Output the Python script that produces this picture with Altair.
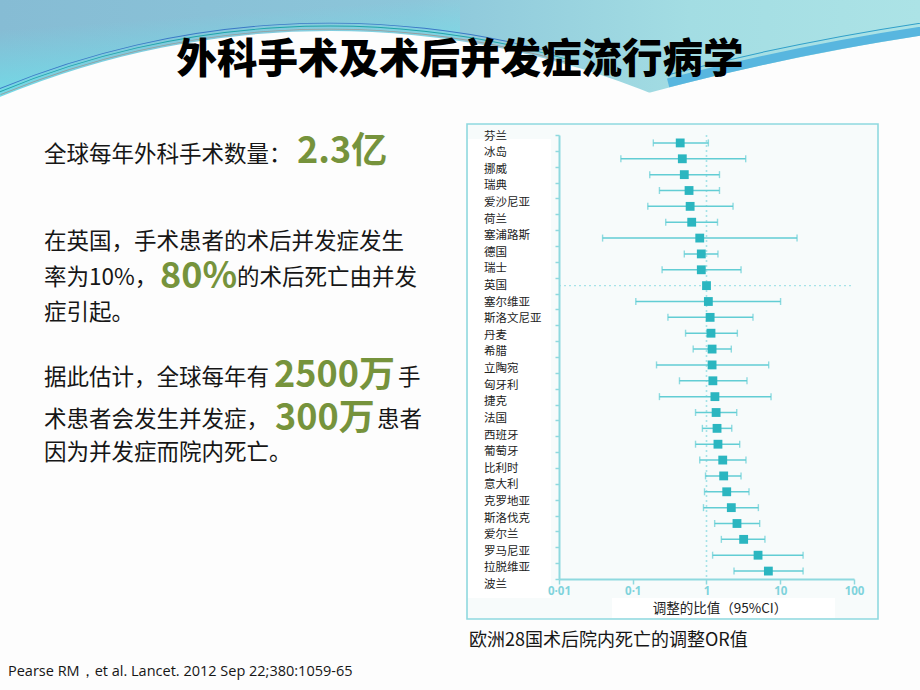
import altair as alt
import pandas as pd

# ---------------- data ----------------
COUNTRIES = ["芬兰", "冰岛", "挪威", "瑞典", "爱沙尼亚", "荷兰", "塞浦路斯", "德国", "瑞士", "英国",
             "塞尔维亚", "斯洛文尼亚", "丹麦", "希腊", "立陶宛", "匈牙利", "捷克", "法国", "西班牙",
             "葡萄牙", "比利时", "意大利", "克罗地亚", "斯洛伐克", "爱尔兰", "罗马尼亚", "拉脱维亚", "波兰"]
OR_VALUES = [0.44, 0.47, 0.50, 0.58, 0.60, 0.63, 0.81, 0.85, 0.85, 1.0,
             1.06, 1.12, 1.15, 1.19, 1.19, 1.22, 1.30, 1.35, 1.39,
             1.43, 1.66, 1.71, 1.88, 2.17, 2.59, 3.19, 5.0, 6.9]
CI_LOW = [0.19, 0.069, 0.17, 0.23, 0.16, 0.28, 0.039, 0.50, 0.25, None,
          0.11, 0.30, 0.52, 0.66, 0.21, 0.43, 0.23, 0.71, 0.88,
          0.71, 0.81, 0.97, 0.94, 0.91, 1.29, 1.59, 1.21, 2.36]
CI_HIGH = [1.06, 3.4, 1.5, 1.5, 2.29, 1.41, 16.9, 1.43, 2.94, None,
           10.1, 4.27, 2.62, 2.17, 6.97, 3.54, 7.5, 2.57, 2.2,
           2.82, 3.43, 2.94, 3.77, 5.05, 5.26, 6.2, 20.4, 20.4]
REFERENCE_COUNTRY = "英国"
REFERENCE_OR = [1.0]
X_TICK_VALUES = [0.01, 0.1, 1, 10, 100]
X_TICK_LABELS = ["0·01", "0·1", "1", "10", "100"]

df = pd.DataFrame({"country": COUNTRIES, "oddsratio": OR_VALUES, "lo": CI_LOW, "hi": CI_HIGH})
df["idx"] = list(range(len(df)))
ci_df = df.dropna(subset=["lo", "hi"])
ref_df = pd.DataFrame({"v": REFERENCE_OR})
one = pd.DataFrame({"k": [0]})

# ---------------- layout ----------------
PL, PT, W, H = 559, 135, 295, 444
def px(x):
    return x - PL
def py(y):
    return y - PT

CJK = "Noto Sans CJK SC"
AX = "#8fd9df"
BAR = "#62cdd4"
SQ = "#2bb6c0"
GREEN = "#76933c"
INK = "#161616"

# label expression built from the tick lists
expr = "'" + X_TICK_LABELS[-1] + "'"
for v, l in reversed(list(zip(X_TICK_VALUES[:-1], X_TICK_LABELS[:-1]))):
    expr = f"datum.value <= {v * 1.01} ? '{l}' : ({expr})"

x_axis = alt.Axis(values=X_TICK_VALUES, labelExpr=expr, title=None, grid=False, zindex=1,
                  domainColor=AX, domainWidth=2, tickColor=AX, tickWidth=1.5, tickSize=5,
                  labelColor="#7fd3dc", labelFont="Noto Sans", labelFontWeight="bold",
                  labelFontSize=11.5, labelPadding=1, labelFlush=False, labelOverlap=False)
x_scale = alt.Scale(type="log", domain=[0.01, 100], nice=False)
y_axis = alt.Axis(values=[k - 0.5 for k in range(len(COUNTRIES) + 1)], labels=False, title=None,
                  grid=False, zindex=1, domainColor=AX, domainWidth=2, tickColor=AX, tickWidth=1.5,
                  tickSize=4)
y_scale = alt.Scale(domain=[-0.5, len(COUNTRIES) - 0.5], reverse=True, nice=False, zero=False)

def xq(f):
    return alt.X(f + ":Q", scale=x_scale, axis=x_axis)
def yq(f):
    return alt.Y(f + ":Q", scale=y_scale, axis=y_axis)

def at(x, y):
    return dict(x=alt.value(px(x)), y=alt.value(py(y)))

# ---------------- decorative banner ----------------
grad_h = {"gradient": "linear", "x1": 0, "y1": 0, "x2": 1, "y2": 0,
          "stops": [{"offset": 0, "color": "#86bcd4"}, {"offset": 0.45, "color": "#8cc6da"},
                    {"offset": 0.75, "color": "#a3dde3"}, {"offset": 1, "color": "#ace3e6"}]}
grad_v = {"gradient": "linear", "x1": 0, "y1": 0, "x2": 0.3, "y2": 1,
          "stops": [{"offset": 0.25, "color": "rgba(108,228,237,0)"},
                    {"offset": 1, "color": "rgba(108,228,237,1)"}]}
banner = alt.Chart(one).mark_rect(fill=grad_h).encode(
    x=alt.value(px(0)), x2=alt.value(px(920)), y=alt.value(py(0)), y2=alt.value(py(125)))
banner2 = alt.Chart(one).mark_rect(fill=grad_v).encode(
    x=alt.value(px(0)), x2=alt.value(px(460)), y=alt.value(py(0)), y2=alt.value(py(110)))
white_l = alt.Chart(one).mark_arc(theta=0, theta2=6.2832, radius=858, fill="#fdfdfd").encode(**at(330, 889))
white_r = alt.Chart(one).mark_arc(theta=0, theta2=6.2832, radius=2518, fill="#fdfdfd").encode(**at(1300, 2525))
swoosh = alt.Chart(one).mark_arc(theta=6.03, theta2=6.16, radius=2527, radius2=2518,
                                  fill="#58b6df").encode(**at(1300, 2525))
swoosh2 = alt.Chart(one).mark_arc(theta=6.03, theta2=6.16, radius=2531, radius2=2530,
                                   fill="#2f9fc9").encode(**at(1300, 2525))
lines_l = [
    alt.Chart(one).mark_arc(theta=5.89, theta2=6.56, radius=r + w, radius2=r, fill=c).encode(**at(330, 889))
    for r, w, c in [(859.5, 0.8, "#9a9a9a"), (862.5, 0.9, "#1fa5a8"), (865.5, 0.8, "#3b78c6")]
]

# ---------------- slide text ----------------
title = alt.Chart(one).mark_text(text="外科手术及术后并发症流行病学", font=CJK, fontSize=40.5, fontWeight=900,
                                 align="center", baseline="middle", color="#000000").encode(**at(460, 61))

def body(t, x, y, size=22.5, color=INK, weight="normal", font=CJK):
    return alt.Chart(one).mark_text(text=t, font=font, fontSize=size, fontWeight=weight, color=color,
                                    align="left", baseline="middle").encode(**at(x, y))

def big(t, x, y):
    return body(t, x, y, size=36, color=GREEN, weight="bold")

texts = [
    body("全球每年外科手术数量：", 44, 155), big("2.3亿", 297, 152),
    body("在英国，手术患者的术后并发症发生", 44, 242),
    body("率为10%，", 44, 278), big("80%", 160, 277), body("的术后死亡由并发", 237, 278),
    body("症引起。", 44, 313),
    body("据此估计，全球每年有", 44, 378), big("2500万", 274, 376), body("手", 398, 378),
    body("术患者会发生并发症，", 44, 420), big("300万", 275, 419), body("患者", 377, 420),
    body("因为并发症而院内死亡。", 44, 453),
    body("欧洲28国术后院内死亡的调整OR值", 469, 641, size=18),
    body("Pearse RM，et al. Lancet. 2012 Sep 22;380:1059-65", 8, 672, size=14.5, font="Open Sans"),
]

# ---------------- forest plot panel ----------------
panel = alt.Chart(one).mark_rect(fill="#f7fbfb", stroke=AX, strokeWidth=1.6).encode(
    x=alt.value(px(467)), x2=alt.value(px(878)), y=alt.value(py(124)), y2=alt.value(py(619)))
label_bg = alt.Chart(one).mark_rect(fill="white").encode(
    x=alt.value(px(468)), x2=alt.value(px(551)), y=alt.value(py(139)), y2=alt.value(py(598)))
title_bg = alt.Chart(one).mark_rect(fill="white").encode(
    x=alt.value(px(612)), x2=alt.value(px(835)), y=alt.value(py(598)), y2=alt.value(py(618)))

vref = alt.Chart(ref_df).mark_rule(color="#a6e3e8", strokeWidth=1.6, strokeDash=[2, 3]).encode(
    x=xq("v"), y=alt.value(0), y2=alt.value(H))
href = alt.Chart(df).transform_filter(alt.datum.country == REFERENCE_COUNTRY).mark_rule(
    color="#a6e3e8", strokeWidth=1.4, strokeDash=[2, 3]).encode(
    y=yq("idx"), x=alt.value(0), x2=alt.value(W))
bars = alt.Chart(ci_df).mark_rule(color=BAR, strokeWidth=1.5).encode(x=xq("lo"), x2="hi:Q", y=yq("idx"))
cap_lo = alt.Chart(ci_df).mark_tick(color=BAR, orient="vertical", size=7, thickness=1.4).encode(
    x=xq("lo"), y=yq("idx"))
cap_hi = alt.Chart(ci_df).mark_tick(color=BAR, orient="vertical", size=7, thickness=1.4).encode(
    x=xq("hi"), y=yq("idx"))
squares = alt.Chart(df).mark_square(size=78, color=SQ, opacity=1, filled=True).encode(
    x=xq("oddsratio"), y=yq("idx"))

plot = alt.layer(vref, href, bars, cap_lo, cap_hi, squares)

labels = alt.Chart(df).mark_text(font=CJK, fontSize=11.5, color="#222222", align="left",
                                 baseline="middle").encode(
    text="country:N", x=alt.value(px(484)),
    y=alt.Y("idx:Q", scale=alt.Scale(domain=[0, len(COUNTRIES) - 1], range=[py(136.5), py(585)]), axis=None))

xtitle = alt.Chart(one).mark_text(text="调整的比值（95%CI）", font=CJK, fontSize=13.5, color="#222222",
                                  align="center", baseline="middle").encode(**at(720, 609))

chart = alt.layer(
    banner, banner2, white_l, white_r, swoosh, swoosh2, *lines_l,
    title,
    panel, label_bg, title_bg,
    plot, labels, xtitle, *texts,
).resolve_scale(y="independent").properties(
    width=W, height=H,
    autosize=alt.AutoSizeParams(type="none"),
    padding={"left": PL, "top": PT, "right": 920 - PL - W, "bottom": 690 - PT - H},
    background="#fdfdfd",
).configure_view(stroke=None)

chart.save("out.html", embed_options={"renderer": "svg", "actions": False})
